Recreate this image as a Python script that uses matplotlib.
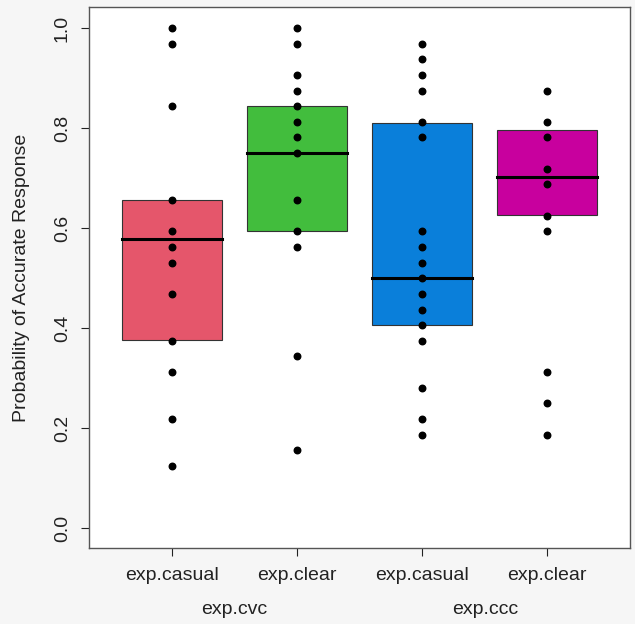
import matplotlib
matplotlib.use("Agg")
import matplotlib.pyplot as plt
from matplotlib.patches import Rectangle

plt.rcParams['font.family'] = ['Liberation Sans', 'DejaVu Sans']

conditions = ["exp.casual", "exp.clear", "exp.casual", "exp.clear"]
groups = ["exp.cvc", "exp.ccc"]

# box: lower, middle line, upper
box_low = [0.376, 0.595, 0.406, 0.627]
box_mid = [0.579, 0.750, 0.500, 0.703]
box_high = [0.656, 0.844, 0.811, 0.797]

cvc_casual = [1.0, 0.96875, 0.84375, 0.65625, 0.59375, 0.5625, 0.53125,
              0.46875, 0.375, 0.3125, 0.21875, 0.125]
cvc_clear = [1.0, 0.96875, 0.90625, 0.875, 0.84375, 0.8125, 0.78125, 0.75,
             0.65625, 0.59375, 0.5625, 0.34375, 0.15625]
ccc_casual = [0.96875, 0.9375, 0.90625, 0.875, 0.8125, 0.78125, 0.59375,
              0.5625, 0.53125, 0.5, 0.46875, 0.4375, 0.40625, 0.375,
              0.28125, 0.21875, 0.1875]
ccc_clear = [0.875, 0.8125, 0.78125, 0.71875, 0.6875, 0.625, 0.59375,
             0.3125, 0.25, 0.1875]
points = [cvc_casual, cvc_clear, ccc_casual, ccc_clear]

colours = ['#E5566B', '#42BD3D', '#0A7FDA', '#C8009E']
fs = 14

fig = plt.figure(figsize=(6.35, 6.24), dpi=100, facecolor='#f6f6f6')
ax = fig.add_axes([89 / 635, 1 - 548 / 624, (630 - 89) / 635, (548 - 7) / 624])
ax.set_facecolor('white')

for i in range(4):
    x = i + 1
    ax.add_patch(Rectangle((x - 0.4, box_low[i]), 0.8, box_high[i] - box_low[i],
                           facecolor=colours[i], edgecolor='#333333', linewidth=0.8, zorder=2))
    ax.plot([x - 0.4, x + 0.4], [box_mid[i], box_mid[i]], color='black', lw=2.2, zorder=3)
    ax.scatter([x] * len(points[i]), points[i], s=22, color='black', zorder=4)

ax.set_xlim(0.336, 4.664)
ax.set_ylim(-0.039, 1.042)

ax.set_yticks([0.0, 0.2, 0.4, 0.6, 0.8, 1.0])
ax.set_yticklabels(["0.0", "0.2", "0.4", "0.6", "0.8", "1.0"], rotation=90, va='center')
ax.set_xticks([1, 2, 3, 4])
ax.set_xticklabels(conditions)
ax.tick_params(labelsize=fs, colors='#222222', length=6, width=0.8)
ax.tick_params(axis='y', pad=7)
ax.tick_params(axis='x', pad=8)
for s in ax.spines.values():
    s.set_color('#555555')
    s.set_linewidth(1.0)

fig.text(22 / 635, 1 - 278 / 624, "Probability of Accurate Response", rotation=90,
         ha='center', va='center', fontsize=fs, color='#222222')
fig.text(234 / 635, 1 - 610 / 624, groups[0], ha='center', va='center', fontsize=fs, color='#222222')
fig.text(485 / 635, 1 - 610 / 624, groups[1], ha='center', va='center', fontsize=fs, color='#222222')

fig.savefig("out.png", dpi=100, facecolor=fig.get_facecolor())
